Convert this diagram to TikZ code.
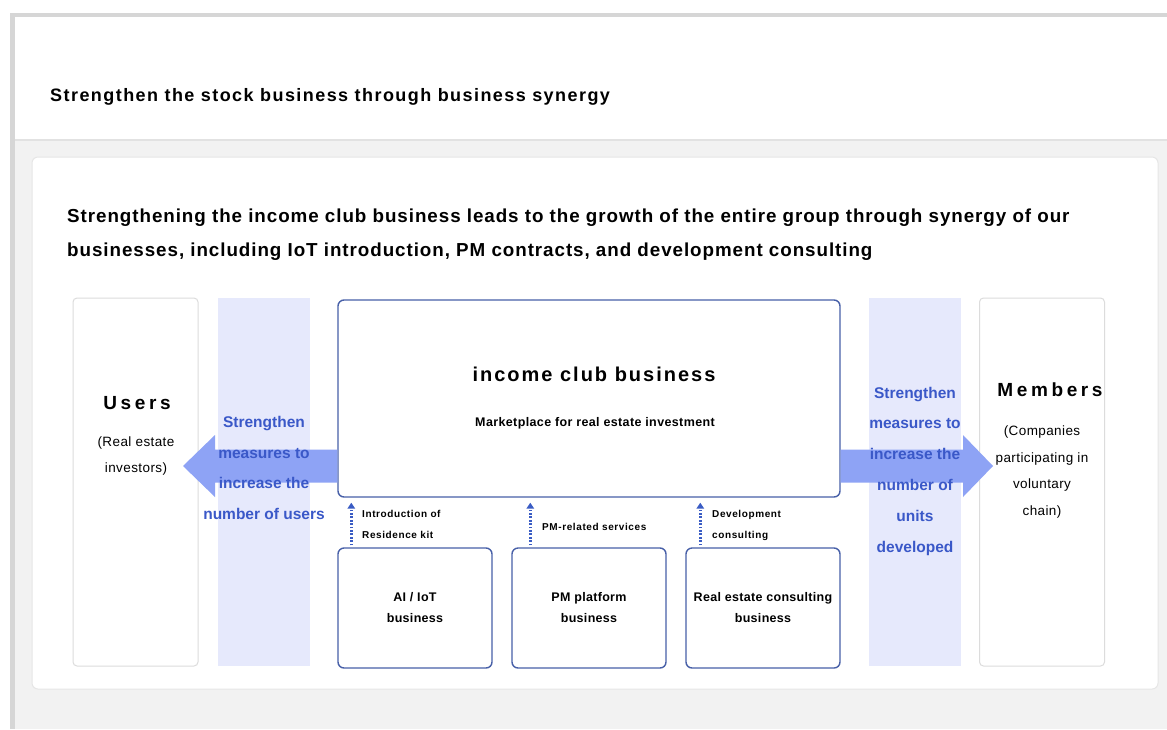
\documentclass[tikz,border=0pt]{standalone}
\usepackage{fontspec}
\setmainfont{Liberation Sans}
\usetikzlibrary{calc,arrows.meta}

\definecolor{pageline}{RGB}{214,214,214}
\definecolor{panelgray}{RGB}{242,242,242}
\definecolor{seam}{RGB}{226,226,226}
\definecolor{cardedge}{RGB}{230,230,230}
\definecolor{sideedge}{RGB}{220,220,220}
\definecolor{bandfill}{RGB}{230,233,252}
\definecolor{flowblue}{RGB}{142,163,245}
\definecolor{accent}{RGB}{58,88,200}
\definecolor{bizedge}{RGB}{72,96,168}
\definecolor{linkblue}{RGB}{58,92,196}

% font size with leading, and tracking in percent of the font size
\newcommand{\fsz}[2]{\fontsize{#1}{#2}\selectfont}
\newcommand{\track}[1]{\addfontfeatures{LetterSpace=#1}}

\begin{document}
\begin{tikzpicture}[x=1pt,y=-1pt,
  sidebox/.style={draw=sideedge,line width=1pt,fill=white,rounded corners=4pt,
    minimum width=125pt,minimum height=368pt,inner sep=0pt},
  bandbox/.style={fill=bandfill,minimum width=92pt,minimum height=368pt,inner sep=0pt},
  bizbox/.style={draw=bizedge,line width=1.4pt,fill=white,rounded corners=6pt,inner sep=0pt,
    align=center,font=\bfseries\fsz{12.5}{21}\track{2.5}},
  bandtext/.style={text=accent,align=center,inner sep=0pt,font=\bfseries\fsz{15.5}{30.8}},
  sidetitle/.style={anchor=base,inner sep=0pt,font=\bfseries\fsz{19}{23}\track{19}},
  sidenote/.style={align=center,inner sep=0pt,font=\fsz{13.5}{26.4}\track{3}},
  linklabel/.style={anchor=west,align=left,inner sep=0pt,font=\bfseries\fsz{10}{21}\track{6}},
  linkarrow/.style={draw=linkblue,line width=2.4pt,dash pattern=on 1.8pt off 1.6pt,
    -{Triangle[length=6pt,width=7.5pt]}},
  flow/.style={fill=flowblue}
]
\useasboundingbox (0,0) rectangle (1167,729);

% page frame: white header strip over a gray body
\fill[white] (0,0) rectangle (1167,729);
\fill[panelgray] (10,139) rectangle (1167,729);
\fill[seam] (15,138.5) rectangle (1167,140.5);
\fill[pageline] (10,13) rectangle (1167,16.5);
\fill[pageline] (10,13) rectangle (15,729);

\node[anchor=base west,inner sep=0pt,font=\bfseries\fsz{18}{22}\track{8}] (headline) at (50,101)
  {Strengthen the stock business through business synergy};

% content card
\node[draw=cardedge,line width=1pt,fill=white,rounded corners=6pt,inner sep=0pt,
  minimum width=1126pt,minimum height=532pt] (card) at (595,423) {};

\node[anchor=base west,inner sep=0pt,font=\bfseries\fsz{18.8}{22}\track{5}] (lead1) at (67,222)
  {Strengthening the income club business leads to the growth of the entire group through synergy of our};
\node[anchor=base west,inner sep=0pt,font=\bfseries\fsz{18.8}{22}\track{5}] (lead2) at (67,256)
  {businesses, including IoT introduction, PM contracts, and development consulting};

% side parties
\node[sidebox] (users) at (135.5,482) {};
\node[sidebox] (members) at (1042,482) {};
\node[bandbox] (userband) at (264,482) {};
\node[bandbox] (unitband) at (915,482) {};

% central business
\node[bizbox,minimum width=502pt,minimum height=197pt] (income) at (589,398.5) {};

% growth arrows out of the central business
\coordinate (usertip) at (183,466);
\coordinate (membertip) at (993,466);
\fill[flow] ($(income.west |- usertip)+(0,-16.5)$) -- ($(usertip)+(32,-16.5)$)
  -- ($(usertip)+(32,-31)$) -- (usertip) -- ($(usertip)+(32,31)$)
  -- ($(usertip)+(32,16.5)$) -- ($(income.west |- usertip)+(0,16.5)$) -- cycle;
\fill[flow] ($(income.east |- membertip)+(0,-16.5)$) -- ($(membertip)+(-30,-16.5)$)
  -- ($(membertip)+(-30,-31)$) -- (membertip) -- ($(membertip)+(-30,31)$)
  -- ($(membertip)+(-30,16.5)$) -- ($(income.east |- membertip)+(0,16.5)$) -- cycle;

\node[inner sep=0pt,anchor=base,font=\bfseries\fsz{20}{24}\track{10}] (incometitle) at (594,381)
  {income club business};
\node[inner sep=0pt,anchor=base,font=\bfseries\fsz{12.5}{16}\track{3}] (incomesub) at (595,426)
  {Marketplace for real estate investment};

\node[sidetitle] (userstitle) at (137,409) {Users};
\node[sidenote] (usersnote) at (136,456) {(Real estate\\investors)};
\node[sidetitle] (memberstitle) at (1050,396) {Members};
\node[sidenote] (membersnote) at (1042,472) {(Companies\\participating in\\voluntary\\chain)};

\node[bandtext] (usermeasure) at (264,468) {Strengthen\\measures to\\increase the\\number of users};
\node[bandtext] (unitmeasure) at (915,471) {Strengthen\\measures to\\increase the\\number of\\units\\developed};

% supporting businesses
\node[bizbox,minimum width=154pt,minimum height=120pt] (aiot) at (415,608) {AI / IoT\\business};
\node[bizbox,minimum width=154pt,minimum height=120pt] (pmp) at (589,608) {PM platform\\business};
\node[bizbox,minimum width=154pt,minimum height=120pt] (rec) at (763,608) {Real estate consulting\\business};

\draw[linkarrow] ($(aiot.north west)+(14,-2)$) -- ($(aiot.north west |- income.south)+(14,5)$);
\draw[linkarrow] ($(pmp.north west)+(19,-2)$) -- ($(pmp.north west |- income.south)+(19,5)$);
\draw[linkarrow] ($(rec.north west)+(15,-2)$) -- ($(rec.north west |- income.south)+(15,5)$);

\node[linklabel] (aiotlabel) at (362,524) {Introduction of\\Residence kit};
\node[linklabel,anchor=base west] (pmplabel) at (542,530) {PM-related services};
\node[linklabel] (reclabel) at (712,525) {Development\\consulting};
\end{tikzpicture}
\end{document}
